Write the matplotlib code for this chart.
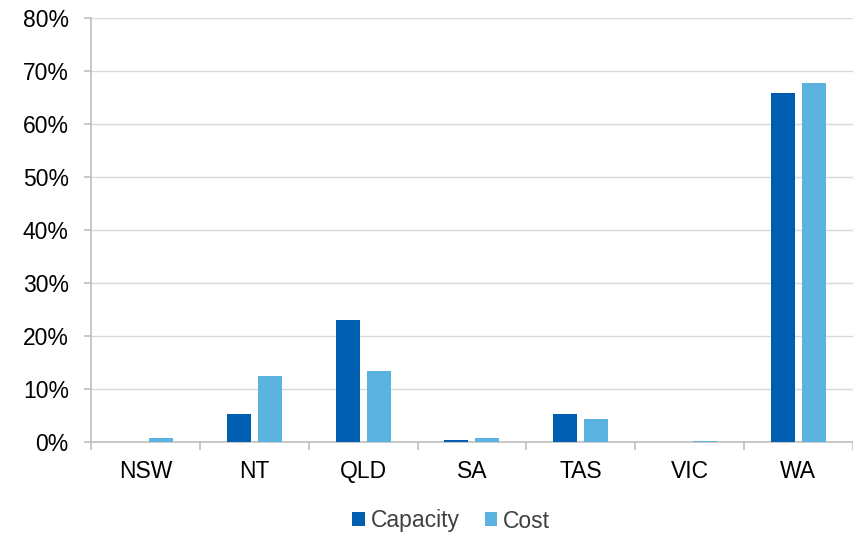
import numpy as np
import matplotlib.pyplot as plt
from matplotlib.ticker import FixedLocator, PercentFormatter

plt.rcParams['font.family'] = ['Liberation Sans', 'DejaVu Sans']

states = ["NSW", "NT", "QLD", "SA", "TAS", "VIC", "WA"]
capacity = [0.0, 5.3, 23.1, 0.3, 5.2, 0.05, 65.8]
cost = [0.7, 12.5, 13.3, 0.8, 4.4, 0.15, 67.7]

dark_blue = "#005EB0"
light_blue = "#5BB4E0"
axis_grey = "#BFBFBF"

fig = plt.figure(figsize=(8.54, 5.36), dpi=100)
ax = fig.add_axes([0.1066, 0.1754, 0.892, 0.791])

x = np.arange(len(states))
width = 0.22
offset = 0.142
ax.bar(x - offset, capacity, width, color=dark_blue, label="Capacity", zorder=3)
ax.bar(x + offset, cost, width, color=light_blue, label="Cost", zorder=3)

ax.set_xlim(-0.5, len(states) - 0.5)
ax.set_ylim(0, 80)
ax.set_yticks(np.arange(0, 81, 10))
ax.yaxis.set_major_formatter(PercentFormatter(decimals=0))
ax.yaxis.grid(True, color="#D9D9D9", linewidth=1.0, zorder=0)

ax.set_xticks(x)
ax.set_xticklabels(states)
ax.xaxis.set_minor_locator(FixedLocator(np.arange(-0.5, len(states), 1.0)))
ax.tick_params(axis="x", which="major", length=0, pad=13, labelsize=16.5, colors="black")
ax.tick_params(axis="x", which="minor", length=6, width=1.2, color=axis_grey)
ax.tick_params(axis="y", length=5, width=1.2, color=axis_grey, labelsize=16.5, pad=11)

for side in ["top", "right"]:
    ax.spines[side].set_visible(False)
for side in ["left", "bottom"]:
    ax.spines[side].set_color(axis_grey)
    ax.spines[side].set_linewidth(1.2)

leg = fig.legend(loc="center", bbox_to_anchor=(451 / 854, 1 - 521 / 536), ncol=2,
                 frameon=False, fontsize=16.5, handlelength=0.55, handleheight=0.55,
                 handletextpad=0.25, columnspacing=1.1)
for text in leg.get_texts():
    text.set_color("#404040")

fig.savefig("out.png", dpi=100)
